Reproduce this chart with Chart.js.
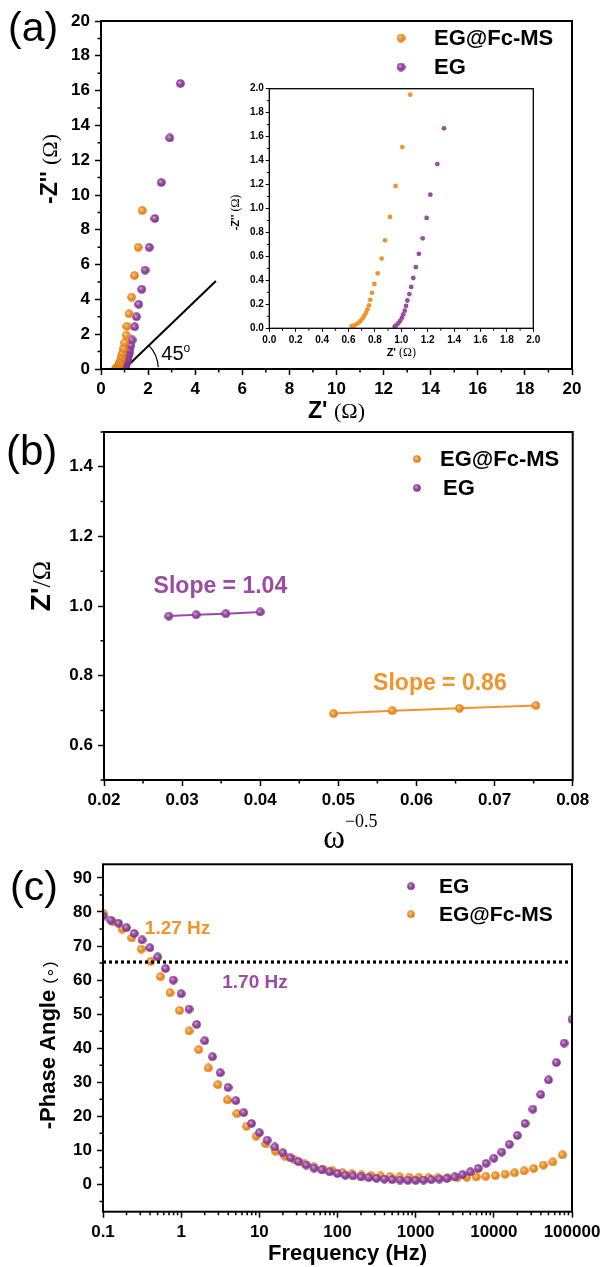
<!DOCTYPE html>
<html>
<head>
<meta charset="utf-8">
<title>EIS comparison EG vs EG@Fc-MS</title>
<script src="https://cdn.jsdelivr.net/npm/chart.js@4.4.1/dist/chart.umd.min.js"></script>
<style>
	html, body { margin: 0; padding: 0; background: #fff; }
	body { position: relative; width: 606px; height: 1267px; overflow: hidden; }
	canvas { position: absolute; }
</style>
</head>
<body>
<canvas id="panelA" width="606" height="440" style="left:0;top:0"></canvas>
<canvas id="panelB" width="606" height="450" style="left:0;top:410px"></canvas>
<canvas id="panelC" width="606" height="427" style="left:0;top:840px"></canvas>
<canvas id="inset" width="320" height="290" style="left:225px;top:75px"></canvas>
<script>
// (a) Nyquist plot, Z' and -Z'' in ohm
const nyqFcMsRe = [0.624, 0.642, 0.659, 0.677, 0.692, 0.707, 0.720, 0.733, 0.743, 0.755, 0.765, 0.778, 0.796, 0.821, 0.851, 0.876, 0.914, 0.957, 1.008, 1.068, 1.10, 1.19, 1.30, 1.42, 1.58, 1.75];
const nyqFcMsIm = [0.019, 0.022, 0.033, 0.047, 0.063, 0.083, 0.105, 0.130, 0.158, 0.192, 0.238, 0.296, 0.370, 0.459, 0.582, 0.734, 0.929, 1.188, 1.513, 1.950, 2.45, 3.17, 4.13, 5.37, 6.99, 9.11];
const nyqEgRe = [0.950, 0.962, 0.977, 0.992, 1.005, 1.015, 1.026, 1.036, 1.046, 1.061, 1.075, 1.091, 1.110, 1.133, 1.162, 1.192, 1.220, 1.273, 1.323, 1.43, 1.51, 1.60, 1.73, 1.87, 2.05, 2.29, 2.56, 2.92, 3.37];
const nyqEgIm = [0.016, 0.025, 0.042, 0.063, 0.089, 0.117, 0.147, 0.187, 0.232, 0.286, 0.345, 0.420, 0.511, 0.622, 0.751, 0.921, 1.115, 1.371, 1.669, 2.43, 3.00, 3.72, 4.58, 5.68, 6.99, 8.65, 10.72, 13.28, 16.41];
const guideRe = [0.99, 4.88];
const guideIm = [0, 5.06];

// (b) Z' against omega^-0.5
const warburgEgX = [0.0283, 0.0318, 0.0356, 0.0400];
const warburgEgY = [0.971, 0.975, 0.978, 0.983];
const warburgFcMsX = [0.0494, 0.0569, 0.0655, 0.0753];
const warburgFcMsY = [0.691, 0.699, 0.706, 0.714];

// (c) Bode phase plot
const bodeEgFreq = [
	0.1, 0.126, 0.158, 0.2, 0.251, 0.316, 0.398, 0.501, 0.631, 0.794,
	1, 1.26, 1.58, 2, 2.51, 3.16, 3.98, 5.01, 6.31, 7.94,
	10, 12.6, 15.8, 20, 25.1, 31.6, 39.8, 50.1, 63.1, 79.4,
	100, 126, 158, 200, 251, 316, 398, 501, 631, 794,
	1000, 1260, 1580, 2000, 2510, 3160, 3980, 5010, 6310, 7940,
	10000, 12600, 15800, 20000, 25100, 31600, 39800, 50100, 63100, 79400,
	100000
];
const bodeEgPhase = [
	78.8, 77.6, 76.7, 75.4, 73.7, 71.8, 69.5, 66.8, 63.4, 60.0,
	56.0, 51.5, 47.0, 42.2, 37.5, 32.8, 28.5, 24.6, 21.1, 17.9,
	15.2, 13.0, 11.0, 9.3, 7.8, 6.7, 5.7, 4.8, 4.3, 3.7,
	3.2, 2.7, 2.5, 2.2, 2.0, 1.8, 1.6, 1.4, 1.3, 1.2,
	1.2, 1.3, 1.4, 1.6, 1.8, 2.2, 2.9, 3.7, 4.7, 6.2,
	7.7, 9.5, 11.8, 14.4, 17.9, 22.1, 26.4, 30.7, 35.8, 41.5,
	48.5
];
const bodeFcMsFreq = [
	0.1, 0.1325, 0.1758, 0.2329, 0.3089, 0.4095, 0.5429, 0.7197, 0.9541, 1.265,
	1.677, 2.223, 2.947, 3.907, 5.179, 6.866, 9.103, 12.07, 16.0, 21.21,
	28.12, 37.28, 49.42, 65.52, 86.86, 115.2, 152.7, 202.4, 268.3, 355.7,
	471.6, 625.2, 828.8, 1099, 1457, 1931, 2560, 3394, 4500, 5965,
	7908, 10480, 13900, 18430, 24430, 32380, 42930, 56910, 75450
];
const bodeFcMsPhase = [
	79.7, 77.2, 75.0, 72.4, 69.1, 65.5, 61.0, 56.3, 51.1, 45.1,
	39.6, 34.2, 29.3, 24.8, 20.8, 17.1, 14.2, 11.9, 9.8, 8.3,
	7.2, 6.2, 5.2, 4.5, 4.0, 3.5, 3.1, 2.8, 2.6, 2.5,
	2.3, 2.2, 2.1, 2.1, 2.0, 2.0, 1.9, 2.0, 2.1, 2.2,
	2.4, 2.6, 3.0, 3.4, 4.0, 4.7, 5.7, 6.6, 8.7
];
const cutoffFreq = [0.1, 100000];
const cutoffPhase = [65.3, 65.3];

// tick labels
const ticksA = [0, 2, 4, 6, 8, 10, 12, 14, 16, 18, 20];
const ticksInset = [0, 0.2, 0.4, 0.6, 0.8, 1.0, 1.2, 1.4, 1.6, 1.8, 2.0];
const ticksBx = [0.02, 0.03, 0.04, 0.05, 0.06, 0.07, 0.08];
const ticksBy = [0.6, 0.8, 1.0, 1.2, 1.4];
const ticksCx = [0.1, 1, 10, 100, 1000, 10000, 100000];
const ticksCy = [0, 10, 20, 30, 40, 50, 60, 70, 80, 90];

const SANS = '"Liberation Sans", Arial, Helvetica, sans-serif';
const SERIF = '"Liberation Serif", "Times New Roman", serif';
const ORANGE = '#f2942c';
const PURPLE = '#9a4ba4';

function toPoints(xs, ys) {
	return xs.map((x, i) => ({ x, y: ys[i] }));
}

function makeBall(base, light, dark, size) {
	const canvas = document.createElement('canvas');
	canvas.width = size;
	canvas.height = size;
	const g = canvas.getContext('2d');
	const r = size / 2;
	const grad = g.createRadialGradient(r * 0.72, r * 0.68, 0, r, r, r);
	grad.addColorStop(0, light);
	grad.addColorStop(0.5, base);
	grad.addColorStop(1, dark);
	g.fillStyle = grad;
	g.beginPath();
	g.arc(r, r, r - 0.2, 0, Math.PI * 2);
	g.fill();
	return canvas;
}

function orangeBall(size) {
	return makeBall(ORANGE, '#fcd9a6', '#d87618', size);
}

function purpleBall(size) {
	return makeBall(PURPLE, '#dcb0e2', '#74307f', size);
}

// minor tick values between major ones
function minorSteps(min, max, step, major) {
	const out = [];
	const start = Math.ceil(min / step - 1e-9);
	for (let i = start; i * step <= max + 1e-9; i++) {
		const v = i * step;
		if (Math.abs(v / major - Math.round(v / major)) > 1e-6) {
			out.push(v);
		}
	}
	return out;
}

function logMinorSteps(decades) {
	const out = [];
	decades.forEach((d) => {
		for (let m = 2; m <= 9; m++) {
			out.push(m * d);
		}
	});
	return out;
}

function drawRuns(ctx, runs, x, y, angle, align) {
	ctx.save();
	ctx.translate(x, y);
	if (angle) {
		ctx.rotate(angle);
	}
	let total = 0;
	runs.forEach((run) => {
		ctx.font = run.font;
		run.width = ctx.measureText(run.text).width;
		total += run.width;
	});
	let cursor = align === 'left' ? 0 : -total / 2;
	ctx.textAlign = 'left';
	ctx.textBaseline = 'alphabetic';
	runs.forEach((run) => {
		ctx.font = run.font;
		ctx.fillStyle = run.color || '#000';
		ctx.fillText(run.text, cursor, run.dy || 0);
		cursor += run.width;
	});
	ctx.restore();
}

function drawLegend(ctx, items) {
	ctx.save();
	items.forEach((item) => {
		ctx.drawImage(item.img, item.mx - item.img.width / 2, item.y - item.img.height / 2);
		ctx.font = item.font;
		ctx.fillStyle = '#000';
		ctx.textAlign = 'left';
		ctx.textBaseline = 'middle';
		ctx.fillText(item.text, item.tx, item.y + 1);
	});
	ctx.restore();
}

function drawFrame(chart, minorX, minorY, minorLength, lineWidth) {
	const ctx = chart.ctx;
	const area = chart.chartArea;
	const xScale = chart.scales.x;
	const yScale = chart.scales.y;
	ctx.save();
	ctx.strokeStyle = '#000';
	ctx.lineWidth = lineWidth * 0.75;
	ctx.beginPath();
	minorX.forEach((value) => {
		const px = xScale.getPixelForValue(value);
		ctx.moveTo(px, area.bottom);
		ctx.lineTo(px, area.bottom + minorLength);
	});
	minorY.forEach((value) => {
		const py = yScale.getPixelForValue(value);
		ctx.moveTo(area.left, py);
		ctx.lineTo(area.left - minorLength, py);
	});
	ctx.stroke();
	ctx.lineWidth = lineWidth;
	ctx.strokeRect(area.left, area.top, area.right - area.left, area.bottom - area.top);
	ctx.restore();
}

function makeAxis(cfg) {
	return {
		type: cfg.type || 'linear',
		min: cfg.min,
		max: cfg.max,
		grid: {
			display: true,
			drawOnChartArea: false,
			drawTicks: true,
			tickLength: cfg.tickLength,
			tickWidth: cfg.tickWidth,
			tickColor: '#000',
			color: 'rgba(0,0,0,0)'
		},
		border: { display: false },
		ticks: {
			color: '#000',
			padding: cfg.padding,
			autoSkip: false,
			maxRotation: 0,
			minRotation: 0,
			font: { family: SANS, size: cfg.fontSize, weight: 'bold' },
			callback: cfg.format
		},
		afterBuildTicks: (scale) => {
			scale.ticks = cfg.major.map((value) => ({ value }));
		},
		afterFit: (scale) => {
			if (cfg.width) {
				scale.width = cfg.width;
			}
			if (cfg.height) {
				scale.height = cfg.height;
			}
		}
	};
}

function baseOptions(padding, scales) {
	return {
		responsive: false,
		animation: false,
		events: [],
		layout: { padding },
		plugins: { legend: { display: false }, tooltip: { enabled: false } },
		scales
	};
}

// ---------- panel (a) ----------
const ballA = { orange: orangeBall(9), purple: purpleBall(9) };

const panelAExtras = {
	id: 'panelAExtras',
	afterDraw(chart) {
		const ctx = chart.ctx;
		const area = chart.chartArea;
		const xScale = chart.scales.x;
		const yScale = chart.scales.y;
		drawFrame(chart, minorSteps(0, 20, 1, 2), minorSteps(0, 20, 1, 2), 3.5, 2);

		const cx = xScale.getPixelForValue(guideRe[0]);
		const cy = yScale.getPixelForValue(guideIm[0]);
		const ex = xScale.getPixelForValue(guideRe[1]);
		const ey = yScale.getPixelForValue(guideIm[1]);
		ctx.save();
		ctx.strokeStyle = '#000';
		ctx.lineWidth = 1.2;
		ctx.beginPath();
		ctx.arc(cx, cy, 34, Math.atan2(ey - cy, ex - cx), -0.05);
		ctx.stroke();
		ctx.restore();
		drawRuns(ctx, [{ text: '45', font: '20px ' + SANS }, { text: 'o', font: '12px ' + SANS, dy: -8 }], cx + 37, cy - 9, 0, 'left');

		drawRuns(ctx, [{ text: "Z' ", font: 'bold 23px ' + SANS }, { text: '(Ω)', font: '22px ' + SERIF }], (area.left + area.right) / 2, area.bottom + 49, 0, 'center');
		drawRuns(ctx, [{ text: "-Z'' ", font: 'bold 23px ' + SANS }, { text: '(Ω)', font: '22px ' + SERIF }], area.left - 44, area.top + 148, -Math.PI / 2, 'center');

		drawLegend(ctx, [
			{ img: ballA.orange, mx: area.left + 300, y: area.top + 17, tx: area.left + 333, text: 'EG@Fc-MS', font: 'bold 22px ' + SANS },
			{ img: ballA.purple, mx: area.left + 300, y: area.top + 46, tx: area.left + 333, text: 'EG', font: 'bold 22px ' + SANS }
		]);
		drawRuns(ctx, [{ text: '(a)', font: '41px ' + SANS }], 8, 41, 0, 'left');
	}
};

new Chart(document.getElementById('panelA'), {
	type: 'scatter',
	data: {
		datasets: [
			{ label: 'EG@Fc-MS', data: toPoints(nyqFcMsRe, nyqFcMsIm), pointStyle: ballA.orange, pointRadius: 4.5 },
			{ label: 'EG', data: toPoints(nyqEgRe, nyqEgIm), pointStyle: ballA.purple, pointRadius: 4.5 },
			{ label: '45 degree', data: toPoints(guideRe, guideIm), showLine: true, borderColor: '#000', borderWidth: 2, pointRadius: 0 }
		]
	},
	options: baseOptions({ left: 0, right: 34, top: 21, bottom: 0 }, {
		x: makeAxis({ min: 0, max: 20, major: ticksA, fontSize: 17, tickLength: 6, tickWidth: 1.5, padding: 4, height: 71, format: (v) => String(v) }),
		y: makeAxis({ min: 0, max: 20, major: ticksA, fontSize: 17, tickLength: 6, tickWidth: 1.5, padding: 5, width: 101, format: (v) => String(v) })
	}),
	plugins: [panelAExtras]
});

// ---------- inset of (a) ----------
const insetExtras = {
	id: 'insetExtras',
	afterDraw(chart) {
		const ctx = chart.ctx;
		const area = chart.chartArea;
		drawFrame(chart, minorSteps(0, 2, 0.1, 0.2), minorSteps(0, 2, 0.1, 0.2), 2.5, 1.3);
		drawRuns(ctx, [{ text: "Z' ", font: 'bold 11px ' + SANS }, { text: '(Ω)', font: '12px ' + SERIF }], (area.left + area.right) / 2, area.bottom + 28, 0, 'center');
		drawRuns(ctx, [{ text: "-Z'' ", font: 'bold 11px ' + SANS }, { text: '(Ω)', font: '12px ' + SERIF }], area.left - 30, (area.top + area.bottom) / 2 + 4, -Math.PI / 2, 'center');
	}
};

new Chart(document.getElementById('inset'), {
	type: 'scatter',
	data: {
		datasets: [
			{ label: 'EG@Fc-MS', data: toPoints(nyqFcMsRe, nyqFcMsIm), pointStyle: 'circle', pointRadius: 2.4, backgroundColor: ORANGE, borderWidth: 0, clip: 0 },
			{ label: 'EG', data: toPoints(nyqEgRe, nyqEgIm), pointStyle: 'circle', pointRadius: 2.4, backgroundColor: PURPLE, borderWidth: 0, clip: 0 }
		]
	},
	options: baseOptions({ left: 0, right: 11.7, top: 13.7, bottom: 0 }, {
		x: makeAxis({ min: 0, max: 2, major: ticksInset, fontSize: 10, tickLength: 3.5, tickWidth: 1, padding: 2, height: 36.7, format: (v) => v.toFixed(1) }),
		y: makeAxis({ min: 0, max: 2, major: ticksInset, fontSize: 10, tickLength: 3.5, tickWidth: 1, padding: 2, width: 44.3, format: (v) => v.toFixed(1) })
	}),
	plugins: [insetExtras]
});

// ---------- panel (b) ----------
const ballB = { orange: orangeBall(9), purple: purpleBall(9), legendOrange: orangeBall(8), legendPurple: purpleBall(8) };

const panelBExtras = {
	id: 'panelBExtras',
	afterDraw(chart) {
		const ctx = chart.ctx;
		const area = chart.chartArea;
		const xScale = chart.scales.x;
		const yScale = chart.scales.y;
		drawFrame(chart, minorSteps(0.02, 0.08, 0.005, 0.01), minorSteps(0.5, 1.5, 0.1, 0.2), 3.5, 2);

		drawRuns(ctx, [{ text: 'Slope = 1.04', font: 'bold 23px ' + SANS, color: PURPLE }], xScale.getPixelForValue(0.0349), yScale.getPixelForValue(1.059) + 8, 0, 'center');
		drawRuns(ctx, [{ text: 'Slope = 0.86', font: 'bold 23px ' + SANS, color: ORANGE }], xScale.getPixelForValue(0.0630), yScale.getPixelForValue(0.783) + 8, 0, 'center');

		drawRuns(ctx, [{ text: 'ω', font: '33px ' + SERIF }, { text: '−0.5', font: '18px ' + SERIF, dy: -21 }], (area.left + area.right) / 2 + 12, area.bottom + 68, 0, 'center');
		drawRuns(ctx, [{ text: "Z'", font: 'bold 28px ' + SANS }, { text: '/Ω', font: '26px ' + SERIF }], area.left - 54, area.top + 154, -Math.PI / 2, 'center');

		drawLegend(ctx, [
			{ img: ballB.legendOrange, mx: area.left + 313, y: area.top + 27, tx: area.left + 336, text: 'EG@Fc-MS', font: 'bold 22px ' + SANS },
			{ img: ballB.legendPurple, mx: area.left + 313, y: area.top + 56, tx: area.left + 339, text: 'EG', font: 'bold 22px ' + SANS }
		]);
		drawRuns(ctx, [{ text: '(b)', font: '42px ' + SANS }], 6, 55, 0, 'left');
	}
};

new Chart(document.getElementById('panelB'), {
	type: 'scatter',
	data: {
		datasets: [
			{ label: 'EG', data: toPoints(warburgEgX, warburgEgY), showLine: true, borderColor: PURPLE, borderWidth: 2, pointStyle: ballB.purple, pointRadius: 4.5 },
			{ label: 'EG@Fc-MS', data: toPoints(warburgFcMsX, warburgFcMsY), showLine: true, borderColor: ORANGE, borderWidth: 2, pointStyle: ballB.orange, pointRadius: 4.5 }
		]
	},
	options: baseOptions({ left: 0, right: 33.3, top: 22, bottom: 0 }, {
		x: makeAxis({ min: 0.02, max: 0.08, major: ticksBx, fontSize: 17, tickLength: 6, tickWidth: 1.5, padding: 4, height: 80, format: (v) => v.toFixed(2) }),
		y: makeAxis({ min: 0.5, max: 1.5, major: ticksBy, fontSize: 17, tickLength: 6, tickWidth: 1.5, padding: 5, width: 104, format: (v) => v.toFixed(1) })
	}),
	plugins: [panelBExtras]
});

// ---------- panel (c) ----------
const ballC = { orange: orangeBall(9), purple: purpleBall(9), legendOrange: orangeBall(8), legendPurple: purpleBall(8) };

const panelCExtras = {
	id: 'panelCExtras',
	afterDraw(chart) {
		const ctx = chart.ctx;
		const area = chart.chartArea;
		const xScale = chart.scales.x;
		const yScale = chart.scales.y;
		drawFrame(chart, logMinorSteps([0.1, 1, 10, 100, 1000, 10000]), minorSteps(-8, 94, 5, 10), 3.5, 2);

		drawRuns(ctx, [{ text: '1.27 Hz', font: 'bold 19px ' + SANS, color: ORANGE }], xScale.getPixelForValue(0.9), yScale.getPixelForValue(75.5) + 7, 0, 'center');
		drawRuns(ctx, [{ text: '1.70 Hz', font: 'bold 19px ' + SANS, color: PURPLE }], xScale.getPixelForValue(8.8), yScale.getPixelForValue(59.6) + 7, 0, 'center');

		drawRuns(ctx, [{ text: 'Frequency (Hz)', font: 'bold 22px ' + SANS }], (area.left + area.right) / 2 + 10, area.bottom + 48, 0, 'center');
		drawRuns(ctx, [{ text: '-Phase Angle ', font: 'bold 22px ' + SANS }, { text: '(∘)', font: '17px ' + SANS }], area.left - 48, area.top + 181, -Math.PI / 2, 'center');

		drawLegend(ctx, [
			{ img: ballC.legendPurple, mx: area.left + 308, y: area.top + 22, tx: area.left + 336, text: 'EG', font: 'bold 21px ' + SANS },
			{ img: ballC.legendOrange, mx: area.left + 308, y: area.top + 50, tx: area.left + 336, text: 'EG@Fc-MS', font: 'bold 21px ' + SANS }
		]);
		drawRuns(ctx, [{ text: '(c)', font: '41px ' + SANS }], 10, 60, 0, 'left');
	}
};

new Chart(document.getElementById('panelC'), {
	type: 'scatter',
	data: {
		datasets: [
			{ label: 'cutoff', data: toPoints(cutoffFreq, cutoffPhase), showLine: true, borderColor: '#000', borderWidth: 3.2, borderDash: [3, 3], pointRadius: 0 },
			{ label: 'EG', data: toPoints(bodeEgFreq, bodeEgPhase), pointStyle: ballC.purple, pointRadius: 4.5, clip: 0 },
			{ label: 'EG@Fc-MS', data: toPoints(bodeFcMsFreq, bodeFcMsPhase), pointStyle: ballC.orange, pointRadius: 4.5, clip: 0 }
		]
	},
	options: baseOptions({ left: 0, right: 34, top: 24.3, bottom: 0 }, {
		x: makeAxis({ type: 'logarithmic', min: 0.1, max: 100000, major: ticksCx, fontSize: 17, tickLength: 6, tickWidth: 1.5, padding: 4, height: 55.3, format: (v) => String(v) }),
		y: makeAxis({ min: -8, max: 94, major: ticksCy, fontSize: 17, tickLength: 6, tickWidth: 1.5, padding: 5, width: 103, format: (v) => String(v) })
	}),
	plugins: [panelCExtras]
});
</script>
</body>
</html>
